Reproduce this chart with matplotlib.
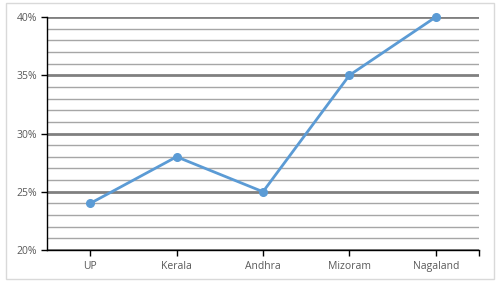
import matplotlib
matplotlib.use("Agg")
import matplotlib.pyplot as plt
from matplotlib.patches import Rectangle
from matplotlib.ticker import FuncFormatter, MultipleLocator, FixedLocator

categories = ["UP", "Kerala", "Andhra", "Mizoram", "Nagaland"]
values = [24, 28, 25, 35, 40]

plt.rcParams['font.family'] = ['Open Sans', 'DejaVu Sans']

W, H = 504, 289
fig = plt.figure(figsize=(W / 100, H / 100), dpi=100)
fig.patches.append(Rectangle((6 / W, 1 - 279 / H), 488 / W, 276 / H, transform=fig.transFigure,
                             fill=False, edgecolor="#d9d9d9", linewidth=1))
ax = fig.add_axes([47 / W, 1 - 250 / H, 432 / W, 233 / H])

x = list(range(len(categories)))
ax.plot(x, values, color="#5B9BD5", linewidth=2, marker="o", markersize=5.5, zorder=5, clip_on=False)

ax.set_xlim(-0.5, len(categories) - 0.5)
ax.set_ylim(20, 40)
ax.yaxis.set_major_locator(MultipleLocator(5))
ax.yaxis.set_minor_locator(MultipleLocator(1))
ax.yaxis.set_major_formatter(FuncFormatter(lambda v, p: f"{int(v)}%"))
ax.grid(which="major", axis="y", color="#808080", linewidth=2)
ax.grid(which="minor", axis="y", color="#a6a6a6", linewidth=1)
ax.set_axisbelow(True)

ax.set_xticks(x)
ax.set_xticklabels(categories)
ax.xaxis.set_minor_locator(FixedLocator([len(categories) - 0.5]))

for s in ["top", "right"]:
    ax.spines[s].set_visible(False)
for s in ["left", "bottom"]:
    ax.spines[s].set_color("black")
    ax.spines[s].set_linewidth(1)

ax.tick_params(axis="y", which="major", direction="out", length=4, width=1, colors="black",
               labelcolor="#595959", labelsize=7.5, pad=3)
ax.tick_params(axis="y", which="minor", length=0)
ax.tick_params(axis="x", which="both", direction="out", length=4, width=1, colors="black",
               labelcolor="#595959", labelsize=7.5, pad=4)

fig.savefig("out.png", dpi=100)
